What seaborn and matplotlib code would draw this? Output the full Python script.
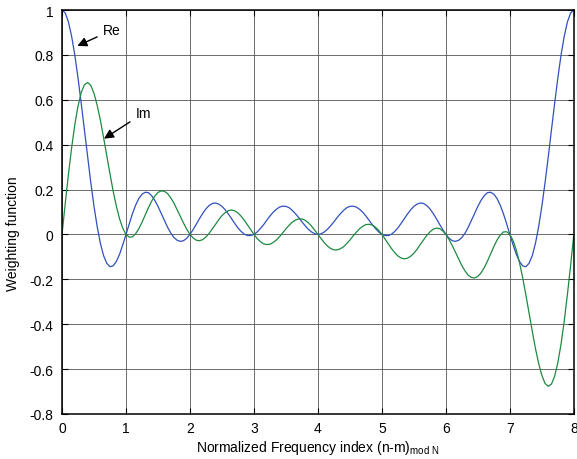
import matplotlib

matplotlib.use("Agg")
import matplotlib.pyplot as plt
import seaborn as sns

# frequency index samples (step 0.05)
freq = [round(i * 0.05, 2) for i in range(161)]

re_vals = [
    1.000, 0.987, 0.947, 0.883, 0.799, 0.697, 0.584, 0.465, 0.345, 0.230,
    0.125, 0.034, -0.040, -0.095, -0.129, -0.144, -0.140, -0.120, -0.088, -0.046,
    0.000, 0.047, 0.092, 0.130, 0.160, 0.179, 0.188, 0.186, 0.173, 0.152,
    0.125, 0.094, 0.063, 0.032, 0.006, -0.014, -0.026, -0.031, -0.028, -0.017,
    0.000, 0.022, 0.046, 0.071, 0.094, 0.114, 0.129, 0.138, 0.140, 0.135,
    0.125, 0.110, 0.091, 0.070, 0.049, 0.029, 0.013, 0.001, -0.005, -0.005,
    0.000, 0.011, 0.026, 0.043, 0.063, 0.082, 0.099, 0.112, 0.122, 0.126,
    0.125, 0.119, 0.107, 0.092, 0.075, 0.056, 0.039, 0.023, 0.011, 0.003,
    0.000, 0.003, 0.011, 0.023, 0.039, 0.056, 0.075, 0.092, 0.107, 0.119,
    0.125, 0.126, 0.122, 0.112, 0.099, 0.082, 0.063, 0.043, 0.026, 0.011,
    0.000, -0.005, -0.005, 0.001, 0.013, 0.029, 0.049, 0.070, 0.091, 0.110,
    0.125, 0.135, 0.140, 0.138, 0.129, 0.114, 0.094, 0.071, 0.046, 0.022,
    0.000, -0.017, -0.028, -0.031, -0.026, -0.014, 0.006, 0.032, 0.063, 0.094,
    0.125, 0.152, 0.173, 0.186, 0.188, 0.179, 0.160, 0.130, 0.092, 0.047,
    0.000, -0.046, -0.088, -0.120, -0.140, -0.144, -0.129, -0.095, -0.040, 0.034,
    0.125, 0.230, 0.345, 0.465, 0.584, 0.697, 0.799, 0.883, 0.947, 0.987,
    1.000,
]

im_vals = [
    0.000, 0.137, 0.267, 0.386, 0.489, 0.572, 0.632, 0.667, 0.677, 0.664,
    0.628, 0.575, 0.508, 0.431, 0.350, 0.269, 0.192, 0.125, 0.069, 0.027,
    0.000, -0.012, -0.011, 0.003, 0.025, 0.054, 0.087, 0.119, 0.148, 0.171,
    0.187, 0.194, 0.192, 0.182, 0.163, 0.139, 0.110, 0.080, 0.050, 0.023,
    0.000, -0.016, -0.026, -0.028, -0.023, -0.011, 0.005, 0.025, 0.045, 0.066,
    0.084, 0.097, 0.106, 0.109, 0.105, 0.096, 0.081, 0.063, 0.042, 0.021,
    0.000, -0.018, -0.032, -0.042, -0.045, -0.044, -0.036, -0.025, -0.010, 0.007,
    0.025, 0.041, 0.055, 0.064, 0.069, 0.069, 0.063, 0.052, 0.037, 0.019,
    0.000, -0.019, -0.037, -0.052, -0.063, -0.069, -0.069, -0.064, -0.055, -0.041,
    -0.025, -0.007, 0.010, 0.025, 0.036, 0.044, 0.045, 0.042, 0.032, 0.018,
    0.000, -0.021, -0.042, -0.063, -0.081, -0.096, -0.105, -0.109, -0.106, -0.097,
    -0.084, -0.066, -0.045, -0.025, -0.005, 0.011, 0.023, 0.028, 0.026, 0.016,
    0.000, -0.023, -0.050, -0.080, -0.110, -0.139, -0.163, -0.182, -0.192, -0.194,
    -0.187, -0.171, -0.148, -0.119, -0.087, -0.054, -0.025, -0.003, 0.011, 0.012,
    0.000, -0.027, -0.069, -0.125, -0.192, -0.269, -0.350, -0.431, -0.508, -0.575,
    -0.628, -0.664, -0.677, -0.667, -0.632, -0.572, -0.489, -0.386, -0.267, -0.137,
    0.000,
]

x_ticks = [0, 1, 2, 3, 4, 5, 6, 7, 8]
y_ticks = [-0.8, -0.6, -0.4, -0.2, 0, 0.2, 0.4, 0.6, 0.8, 1]


def main():
    sns.set_style("ticks")
    plt.rcParams["font.family"] = ["Liberation Sans", "DejaVu Sans"]
    plt.rcParams["axes.unicode_minus"] = False
    plt.rcParams["text.color"] = "black"
    plt.rcParams["axes.labelcolor"] = "black"

    fig = plt.figure(figsize=(5.77, 4.6), dpi=100)
    ax = fig.add_axes([0.1075, 0.098, 0.887, 0.878])

    sns.lineplot(x=freq, y=re_vals, ax=ax, color="#3050bd", lw=0.9)
    sns.lineplot(x=freq, y=im_vals, ax=ax, color="#1d8a40", lw=0.9)

    ax.set_xlim(0, 8)
    ax.set_ylim(-0.8, 1)
    ax.set_xticks(x_ticks)
    ax.set_yticks(y_ticks)
    ax.set_xticklabels([f"{v:g}" for v in x_ticks])
    ax.set_yticklabels([f"{v:g}" for v in y_ticks])
    ax.tick_params(direction="in", top=True, right=True, labelsize=10,
                   length=4, width=0.8, colors="black")
    ax.tick_params(axis="x", pad=5)
    ax.tick_params(axis="y", pad=6)
    ax.grid(True, color="#555555", lw=0.6)
    for side in ax.spines.values():
        side.set_linewidth(1.1)
        side.set_color("black")

    ax.set_xlabel("Normalized Frequency index (n-m)$_{\\mathregular{mod\\ N}}$",
                  fontsize=10, labelpad=2)
    ax.set_ylabel("Weighting function", fontsize=10)
    # the y label sits a little below the middle of the axis
    ax.yaxis.set_label_coords(-0.083, 0.448)

    arrow = dict(arrowstyle="-|>", color="black", lw=1.0, mutation_scale=14)
    ax.annotate("Re", xy=(0.2, 0.835), xytext=(0.64, 0.91), fontsize=10,
                va="center", ha="left", arrowprops=arrow)
    ax.annotate("Im", xy=(0.62, 0.42), xytext=(1.15, 0.54), fontsize=10,
                va="center", ha="left", arrowprops=arrow)

    fig.savefig("out.png", dpi=100)


if __name__ == "__main__":
    main()
